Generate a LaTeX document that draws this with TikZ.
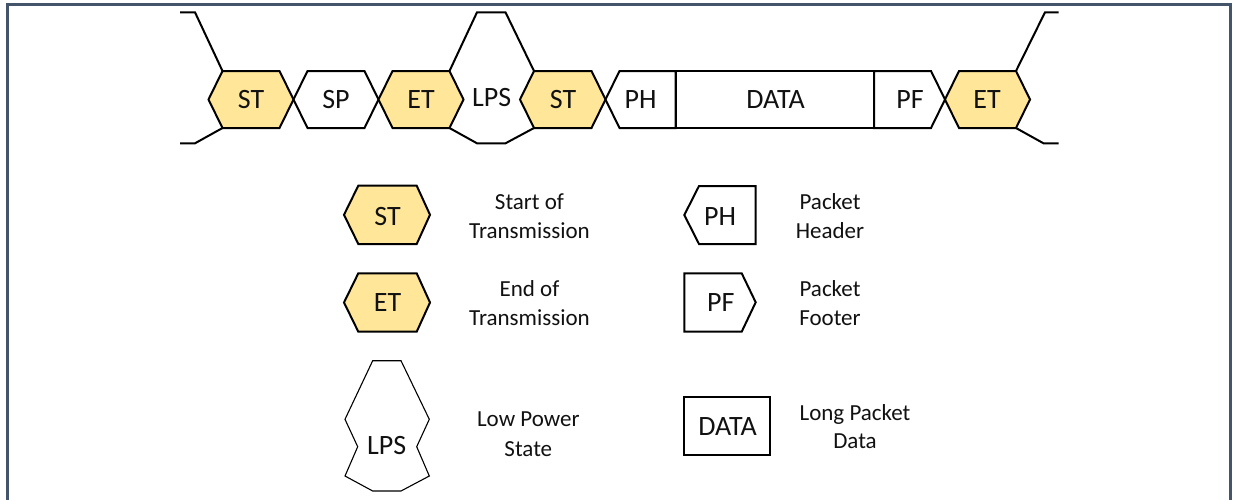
\documentclass[tikz,border=0pt]{standalone}
\usepackage{fontspec}
\setmainfont{Carlito}
\definecolor{hexfill}{HTML}{FFE699}
\definecolor{framecol}{HTML}{44546A}
\definecolor{txt}{HTML}{111111}
\tikzset{
  shapeline/.style={draw=black, line width=2pt, line join=miter},
  thinline/.style={draw=black, line width=1.1pt, line join=miter},
  yel/.style={fill=hexfill},
  lbl/.style={anchor=base, inner sep=0pt, text=txt, font=\fontsize{28}{34}\selectfont},
  desc/.style={anchor=base, inner sep=0pt, text=txt, font=\fontsize{23}{28}\selectfont},
}
\begin{document}
\begin{tikzpicture}[x=1pt, y=-1pt]
\useasboundingbox (0,0) rectangle (1237,499);
% frame
\draw[framecol, line width=3pt] (7.3,520) -- (7.3,4.7) -- (1230.3,4.7) -- (1230.3,520);

% ---------- main stream ----------
\def\T{71}\def\B{128}\def\M{99.5}
% left stubs
\draw[shapeline] (180,12.3) -- (195,12.3) -- (222.5,\T);
\draw[shapeline] (180,143.3) -- (195,143.3) -- (222.5,\B);
% ST
\draw[shapeline, yel] (208.5,\M) -- (222.5,\T) -- (279.5,\T) -- (293.5,\M) -- (279.5,\B) -- (222.5,\B) -- cycle;
% SP
\draw[shapeline] (293.5,\M) -- (307.5,\T) -- (364.5,\T) -- (378.5,\M) -- (364.5,\B) -- (307.5,\B) -- cycle;
% ET
\draw[shapeline, yel] (378.5,\M) -- (392.5,\T) -- (449.5,\T) -- (463.5,\M) -- (449.5,\B) -- (392.5,\B) -- cycle;
% LPS top and bottom
\draw[shapeline] (449.5,\T) -- (477,12.3) -- (505.5,12.3) -- (534,\T);
\draw[shapeline] (449.5,\B) -- (477,143.3) -- (505.5,143.3) -- (534,\B);
% ST2
\draw[shapeline, yel] (520,\M) -- (534,\T) -- (591.5,\T) -- (605.5,\M) -- (591.5,\B) -- (534,\B) -- cycle;
% PH
\draw[shapeline] (605.5,\M) -- (619.5,\T) -- (675.5,\T) -- (675.5,\B) -- (619.5,\B) -- cycle;
% DATA
\draw[shapeline] (675.5,\T) rectangle (874,\B);
% PF
\draw[shapeline] (874,\T) -- (931,\T) -- (945,\M) -- (931,\B) -- (874,\B) -- cycle;
% ET2
\draw[shapeline, yel] (945,\M) -- (959,\T) -- (1016,\T) -- (1030,\M) -- (1016,\B) -- (959,\B) -- cycle;
% right stubs
\draw[shapeline] (1016,\T) -- (1045,12.3) -- (1058.5,12.3);
\draw[shapeline] (1016,\B) -- (1043.5,143.3) -- (1058.5,143.3);

\node[lbl] (st1) at (251,108.3) {ST};
\node[lbl] (sp) at (336,108.3) {SP};
\node[lbl] (et1) at (421,108.3) {ET};
\node[lbl] (lps) at (491.7,106) {LPS};
\node[lbl] (st2) at (563,108.3) {ST};
\node[lbl] (ph) at (640.5,108.3) {PH};
\node[lbl] (data) at (775.5,108.3) {DATA};
\node[lbl] (pf) at (910,108.3) {PF};
\node[lbl] (et2) at (987,108.3) {ET};

% ---------- legend ----------
% ST
\draw[shapeline, yel] (344,214.8) -- (358.3,185.7) -- (416.7,185.7) -- (430,214.8) -- (416.7,244) -- (358.3,244) -- cycle;
\node[lbl] (lst) at (387.5,225) {ST};
\node[desc] (lst1) at (529.5,209.3) {Start of};
\node[desc] (lst2) at (529.5,238.3) {Transmission};
% ET
\draw[shapeline, yel] (344,302.5) -- (358.3,273.3) -- (416.7,273.3) -- (430,302.5) -- (416.7,331.7) -- (358.3,331.7) -- cycle;
\node[lbl] (let) at (387.5,311.7) {ET};
\node[desc] (let1) at (529.5,296) {End of};
\node[desc] (let2) at (529.5,325) {Transmission};
% LPS
\draw[thinline] (372.7,360.7) -- (401,360.7) -- (429.3,419.3) -- (416.7,446.7) -- (429.3,476) -- (401,491) -- (372.7,491) -- (345,476) -- (357.7,446.7) -- (345,419.3) -- cycle;
\node[lbl] (llps) at (386.7,454) {LPS};
\node[desc] (llps1) at (528.3,426.7) {Low Power};
\node[desc] (llps2) at (528.3,456) {State};
% PH
\draw[shapeline] (684.3,215) -- (699,186) -- (755.7,186) -- (755.7,244) -- (699,244) -- cycle;
\node[lbl] (lph) at (720,225) {PH};
\node[desc] (lph1) at (830,209.3) {Packet};
\node[desc] (lph2) at (830,238.3) {Header};
% PF
\draw[shapeline] (684.3,273.3) -- (741.7,273.3) -- (755.7,302.3) -- (741.7,331.7) -- (684.3,331.7) -- cycle;
\node[lbl] (lpf) at (720.8,311.7) {PF};
\node[desc] (lpf1) at (830,296) {Packet};
\node[desc] (lpf2) at (830,325) {Footer};
% DATA
\draw[shapeline] (684.3,396.7) rectangle (770,455);
\node[lbl] (ldata) at (727.5,435.7) {DATA};
\node[desc] (ldata1) at (855,420) {Long Packet};
\node[desc] (ldata2) at (855,448.3) {Data};
\end{tikzpicture}
\end{document}
